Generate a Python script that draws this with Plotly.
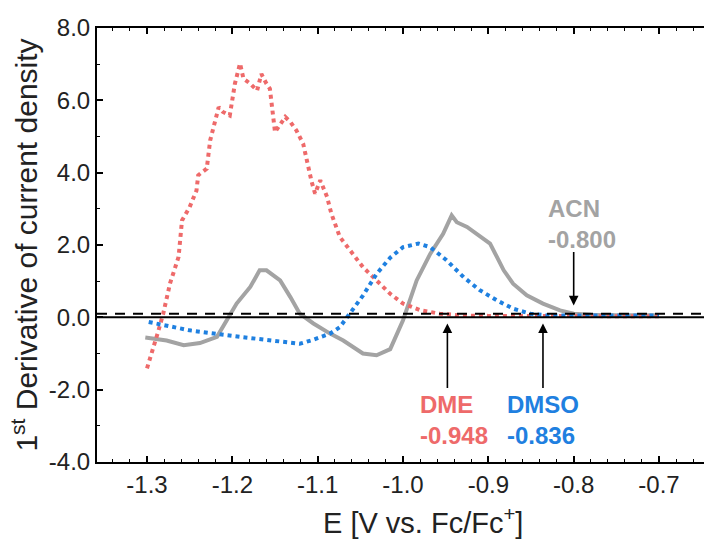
import plotly.graph_objects as go

# ---- data ----
dme_x = [-1.300, -1.293, -1.287, -1.281, -1.273, -1.263, -1.259, -1.250, -1.242, -1.240,
         -1.230, -1.226, -1.216, -1.211, -1.203, -1.197, -1.191, -1.187, -1.179, -1.171,
         -1.166, -1.160, -1.156, -1.150, -1.144, -1.138, -1.132, -1.125, -1.117, -1.113,
         -1.107, -1.103, -1.097, -1.089, -1.084, -1.074, -1.062, -1.047, -1.031, -1.015,
         -1.000, -0.980, -0.957, -0.930, -0.900, -0.850, -0.800, -0.750, -0.700]
dme_y = [-1.41, -0.91, -0.40, 0.10, 0.94, 1.67, 2.68, 3.05, 3.51, 3.93,
         4.11, 4.89, 5.81, 5.68, 5.58, 6.46, 7.02, 6.60, 6.46, 6.27,
         6.73, 6.46, 6.32, 5.12, 5.31, 5.54, 5.40, 5.17, 4.80, 4.34,
         3.74, 3.42, 3.79, 3.33, 2.87, 2.22, 1.85, 1.39, 1.02, 0.65,
         0.38, 0.20, 0.10, 0.05, 0.04, 0.04, 0.03, 0.03, 0.03]

acn_x = [-1.302, -1.277, -1.257, -1.238, -1.218, -1.207, -1.195, -1.179, -1.168, -1.160,
         -1.144, -1.132, -1.121, -1.105, -1.0855, -1.070, -1.047, -1.031, -1.015, -1.000,
         -0.984, -0.968, -0.953, -0.943, -0.937, -0.925, -0.914, -0.898, -0.890, -0.882,
         -0.871, -0.855, -0.836, -0.816, -0.800, -0.780, -0.750, -0.700]
acn_y = [-0.56, -0.64, -0.77, -0.71, -0.54, -0.08, 0.38, 0.84, 1.30, 1.30,
         1.02, 0.56, 0.10, -0.17, -0.45, -0.64, -1.00, -1.05, -0.88, -0.08,
         1.02, 1.76, 2.31, 2.82, 2.63, 2.50, 2.31, 2.04, 1.67, 1.30,
         0.93, 0.61, 0.38, 0.19, 0.10, 0.07, 0.06, 0.06]

dmso_x = [-1.298, -1.250, -1.191, -1.132, -1.121, -1.105, -1.0855, -1.074, -1.062, -1.047,
          -1.031, -1.015, -1.000, -0.982, -0.968, -0.949, -0.929, -0.910, -0.890, -0.871,
          -0.851, -0.830, -0.800, -0.750, -0.700]
dmso_y = [-0.13, -0.36, -0.54, -0.71, -0.73, -0.62, -0.45, -0.27, 0.10, 0.60,
          1.20, 1.65, 1.94, 2.04, 1.94, 1.58, 1.11, 0.75, 0.47, 0.24,
          0.10, 0.05, 0.05, 0.05, 0.05]

zero_level = 0.0
threshold_level = 0.1

onset_labels = ["DME", "DMSO", "ACN"]
onset_values = [-0.948, -0.836, -0.800]

x_tickvals = [-1.3, -1.2, -1.1, -1.0, -0.9, -0.8, -0.7]
x_ticktext = ["-1.3", "-1.2", "-1.1", "-1.0", "-0.9", "-0.8", "-0.7"]
y_tickvals = [-4, -2, 0, 2, 4, 6, 8]
y_ticktext = ["-4.0", "-2.0", "0.0", "2.0", "4.0", "6.0", "8.0"]

x_title = "E [V vs. Fc/Fc<sup>+</sup>]"
y_title = "1<sup>st</sup> Derivative of current density"

# ---- styles ----
RED = "#EE6A6A"
BLUE = "#1F80E0"
GRAY = "#A3A3A3"
TXT = "#222222"
FONT = "Liberation Sans, Arial, sans-serif"

fig = go.Figure()
fig.add_trace(go.Scatter(x=acn_x, y=acn_y, mode="lines",
                         line=dict(color=GRAY, width=4), showlegend=False))
fig.add_trace(go.Scatter(x=dme_x, y=dme_y, mode="lines",
                         line=dict(color=RED, width=4, dash="dot"), showlegend=False))
fig.add_trace(go.Scatter(x=dmso_x, y=dmso_y, mode="lines",
                         line=dict(color=BLUE, width=4, dash="dot"), showlegend=False))

xr = [-1.3586, -0.6473]
fig.add_trace(go.Scatter(x=xr, y=[zero_level, zero_level], mode="lines",
                         line=dict(color="black", width=2), showlegend=False))
fig.add_trace(go.Scatter(x=xr, y=[threshold_level, threshold_level], mode="lines",
                         line=dict(color="black", width=2, dash="10px,8px"), showlegend=False))

colors = {"DME": RED, "DMSO": BLUE, "ACN": GRAY}
# (arrow tip y, arrow pixel offset, text yshift, text xshift)
arrow_cfg = {"DME": (-0.17, 66, -97, 7), "DMSO": (-0.17, 66, -97, 0), "ACN": (0.33, -55, 81, 8)}
for name, val in zip(onset_labels, onset_values):
    tip_y, ay, ys, xs = arrow_cfg[name]
    fig.add_annotation(x=val, y=tip_y, ax=0, ay=ay, text="", showarrow=True,
                       arrowhead=2, arrowsize=1.2, arrowwidth=1.6, arrowcolor="black")
    fig.add_annotation(x=val, y=tip_y, xshift=xs, yshift=ys,
                       text=f"<b>{name}</b><br><b>{val:.3f}</b>", showarrow=False,
                       font=dict(family=FONT, size=24, color=colors[name]),
                       align="left")

# x-axis title (the original axis extends past the cropped right edge)
fig.add_annotation(xref="paper", yref="paper", x=0.5, y=0, xshift=22, yshift=-39,
                   yanchor="top", text=x_title, showarrow=False,
                   font=dict(family=FONT, size=29, color=TXT))

fig.update_xaxes(range=xr, tickvals=x_tickvals, ticktext=x_ticktext,
                 ticks="inside", ticklen=6, tickwidth=1.5, tickcolor="black",
                 minor=dict(dtick=0.02, ticks="inside", ticklen=3, tickwidth=1, tickcolor="black"),
                 showline=True, linecolor="black", linewidth=2, mirror="ticks",
                 showgrid=False, zeroline=False,
                 tickfont=dict(family=FONT, size=24, color=TXT))
fig.update_yaxes(range=[-4, 8], tickvals=y_tickvals, ticktext=y_ticktext,
                 ticks="inside", ticklen=6, tickwidth=1.5, tickcolor="black",
                 minor=dict(dtick=1, ticks="inside", ticklen=3, tickwidth=1, tickcolor="black"),
                 showline=True, linecolor="black", linewidth=2,
                 showgrid=False, zeroline=False,
                 tickfont=dict(family=FONT, size=24, color=TXT),
                 title=dict(text=y_title,
                            font=dict(family=FONT, size=30, color=TXT), standoff=2))
fig.update_layout(width=704, height=539, margin=dict(l=97, r=0, t=28, b=77),
                  paper_bgcolor="white", plot_bgcolor="white")
fig.write_html("out.html")
